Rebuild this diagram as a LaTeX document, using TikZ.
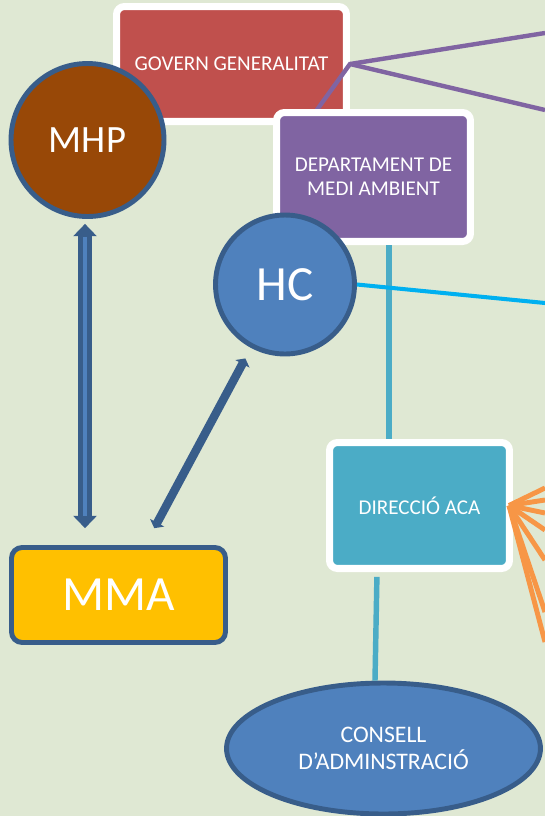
\documentclass[tikz,border=0pt]{standalone}
\usepackage{fontspec}
\setmainfont{Carlito}
\usetikzlibrary{arrows.meta,positioning,shapes.geometric,calc}
\definecolor{panelbg}{HTML}{DFE8D3}
\definecolor{govred}{HTML}{C0504D}
\definecolor{deptpurple}{HTML}{8064A2}
\definecolor{mhpbrown}{HTML}{984807}
\definecolor{hcblue}{HTML}{4F81BD}
\definecolor{edgeblue}{HTML}{385D8A}
\definecolor{acateal}{HTML}{4BACC6}
\definecolor{hccyan}{HTML}{00B0F0}
\definecolor{fanorange}{HTML}{F79646}
\definecolor{mmayellow}{HTML}{FFC000}

\begin{document}
\begin{tikzpicture}[
  x=0.02cm, y=-0.02cm,
  every node/.style={text=white, align=center, font=\fontsize{12pt}{13.5pt}\selectfont},
  whitebox/.style={rectangle, draw=white, line width=4pt, rounded corners=4.5pt, inner sep=2pt},
  disc/.style={circle, draw=edgeblue, line width=2.8pt, inner sep=0pt},
  purpline/.style={draw=deptpurple, line width=2.5pt},
  tealline/.style={draw=acateal, line width=3.1pt},
  cyanline/.style={draw=hccyan, line width=2.3pt},
  fanline/.style={draw=fanorange, line width=2.8pt},
  dblarrow/.style={draw=edgeblue, line width=7.9pt, {Triangle[width=13pt,length=7pt]}-{Triangle[width=13pt,length=7pt]}},
  diagarrow/.style={draw=edgeblue, line width=4.8pt, {Triangle[width=9pt,length=3.5pt]}-{Triangle[width=9pt,length=3.5pt]}}
]
\fill[panelbg] (0,0) rectangle (545,816);
\useasboundingbox (0,0) rectangle (545,816);

% government and its links
\node[whitebox, fill=govred, minimum width=4.6cm, minimum height=2.3cm] (gov) at (231.5,64) {GOVERN GENERALITAT};
\coordinate (depttop) at (315,112.5);
\coordinate (outA) at (545,33);
\coordinate (outB) at (545,110);
\draw[purpline] (depttop) -- (gov.east) -- (outA);
\draw[purpline] (gov.east) -- (outB);

\node[whitebox, fill=deptpurple, minimum width=3.88cm, minimum height=2.58cm] (dept) at (373.5,177) {DEPARTAMENT DE\\MEDI AMBIENT};
\node[whitebox, fill=acateal, minimum width=3.6cm, minimum height=2.52cm] (dir) at (419.5,505.5) {DIRECCIÓ ACA};
\node[ellipse, draw=edgeblue, line width=2.8pt, fill=hcblue, inner sep=0pt, minimum width=6.28cm, minimum height=2.62cm, font=\fontsize{13.5pt}{15.7pt}\selectfont] (board) at (383.5,748.5) {CONSELL\\D’ADMINSTRACIÓ};

\draw[tealline] ([xshift=0.31cm]dept.south) -- ([xshift=0.31cm]dept.south |- dir.north);
\draw[tealline, shorten <=2.8pt] ([xshift=-0.85cm]dir.south) -- ([xshift=-0.17cm]board.north);

% orange fan to the right
\foreach \y [count=\i] in {488,500,513,530,560,612,642}{
  \coordinate (fan\i) at (545,\y);
  \draw[fanline] ([xshift=-0.08cm]dir.east) -- (fan\i);
}

\node[disc, fill=hcblue, minimum size=2.78cm, font=\fontsize{28pt}{30pt}\selectfont] (hc) at (285,284.5) {HC};
\coordinate (hcout) at (545,303);
\draw[cyanline] (hc.east) -- (hcout);

\node[disc, fill=mhpbrown, minimum size=3.06cm, font=\fontsize{22pt}{24pt}\selectfont] (mhp) at (87.5,140) {MHP};
\node[rectangle, draw=edgeblue, line width=2.8pt, rounded corners=6pt, fill=mmayellow, minimum width=4.28cm, minimum height=1.9cm, font=\fontsize{28pt}{30pt}\selectfont] (mma) at (118.5,595) {MMA};

% arrows between MHP, MMA and HC
\draw[dblarrow, shorten <=2.8pt, shorten >=9.6pt] ([xshift=-0.05cm]mhp.south) -- ([xshift=-0.05cm]mhp.south |- mma.north);
\draw[draw=hcblue, line width=2pt, shorten <=10pt, shorten >=16.6pt] ([xshift=-0.05cm]mhp.south) -- ([xshift=-0.05cm]mhp.south |- mma.north);
\draw[diagarrow, shorten <=6.8pt, shorten >=10.9pt] (hc) -- (mma);
\end{tikzpicture}
\end{document}
